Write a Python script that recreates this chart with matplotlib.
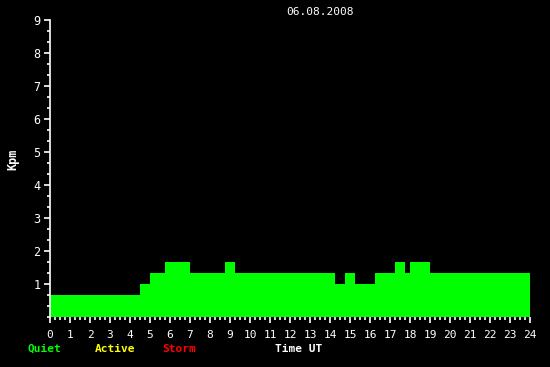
import matplotlib
matplotlib.use("Agg")
import matplotlib.pyplot as plt
import numpy as np

title = "06.08.2008"
ylabel = "Kpm"
xlabel = "Time UT"
legend_labels = ["Quiet", "Active", "Storm"]
legend_colors = ["#00ff00", "#ffff00", "#ff0000"]

# Kpm values per 15-minute interval, 00:00 - 24:00 UT
kpm = [
    0.667, 0.667, 0.667, 0.667, 0.667, 0.667, 0.667, 0.667, 0.667, 0.667,
    0.667, 0.667, 0.667, 0.667, 0.667, 0.667, 0.667, 0.667,
    1.0, 1.0,
    1.333, 1.333, 1.333,
    1.667, 1.667, 1.667, 1.667, 1.667,
    1.333, 1.333, 1.333, 1.333, 1.333, 1.333, 1.333,
    1.667, 1.667,
    1.333, 1.333, 1.333, 1.333, 1.333, 1.333, 1.333, 1.333, 1.333, 1.333,
    1.333, 1.333, 1.333, 1.333, 1.333, 1.333, 1.333, 1.333, 1.333, 1.333,
    1.0, 1.0,
    1.333, 1.333,
    1.0, 1.0, 1.0, 1.0,
    1.333, 1.333, 1.333, 1.333,
    1.667, 1.667,
    1.333,
    1.667, 1.667, 1.667, 1.667,
    1.333, 1.333, 1.333, 1.333, 1.333, 1.333, 1.333, 1.333, 1.333, 1.333,
    1.333, 1.333, 1.333, 1.333, 1.333, 1.333, 1.333, 1.333, 1.333, 1.333,
]
step_hours = 0.25
xticks = list(range(0, 25))
yticks = list(range(1, 10))

W, H = 550, 367
fig = plt.figure(figsize=(W / 100, H / 100), dpi=100, facecolor="black")
ax = fig.add_axes([50 / W, 50 / H, 480 / W, 297 / H], facecolor="black")

x = np.arange(len(kpm)) * step_hours
ax.bar(x, kpm, width=step_hours, align="edge", color="#00ff00", linewidth=0)

ax.set_xlim(0, 24)
ax.set_ylim(0, 9)
for s in ["top", "right", "bottom"]:
    ax.spines[s].set_visible(False)
ax.spines["left"].set_color("white")
ax.spines["left"].set_linewidth(1.2)
ax.spines["left"].set_bounds(0, 9)

mono = "DejaVu Sans Mono"
ax.set_xticks(xticks)
ax.set_xticklabels([str(v) for v in xticks], family=mono, fontsize=8, color="white")
ax.set_xticks(np.arange(0, 24.01, 0.25), minor=True)
ax.set_yticks(yticks)
ax.set_yticklabels([str(v) for v in yticks], family=mono, fontsize=8.5, color="white")
ax.set_yticks(np.arange(0, 9.01, 1 / 3), minor=True)
ax.tick_params(axis="both", which="major", colors="white", length=4, width=1.2)
ax.tick_params(axis="both", which="minor", colors="white", length=2.5, width=1.2)
ax.tick_params(axis="x", which="major", pad=5)
ax.tick_params(axis="y", which="major", pad=3)

fig.text(320 / W, 1 - 12 / H, title, family=mono, fontsize=8, color="white",
         ha="center", va="center")
fig.text(13 / W, 1 - 159 / H, ylabel, family=mono, fontsize=8.5, color="white",
         fontweight="bold", rotation=90, ha="center", va="center")
leg_x = [28, 95, 162]
for lx, lab, col in zip(leg_x, legend_labels, legend_colors):
    fig.text(lx / W, 1 - 349 / H, lab, family=mono, fontsize=8, color=col,
             fontweight="bold", ha="left", va="center")
fig.text(275 / W, 1 - 349 / H, xlabel, family=mono, fontsize=8, color="white",
         fontweight="bold", ha="left", va="center")

fig.savefig("out.png", dpi=100, facecolor="black")
